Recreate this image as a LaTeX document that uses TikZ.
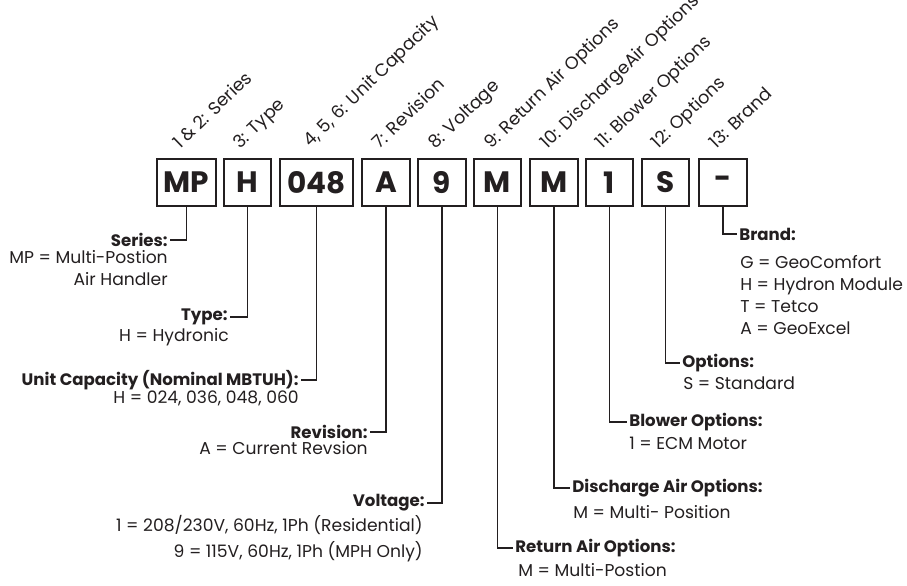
\documentclass[tikz,border=0pt]{standalone}
\usepackage{fontspec}
\setmainfont{Poppins}
\usepackage{tikz}
\usetikzlibrary{positioning}
\definecolor{ink}{HTML}{231F20}

\begin{document}
\begin{tikzpicture}[x=0.025cm, y=-0.025cm, ink, text=ink,
  digit/.style={draw=ink, line width=1.6pt, minimum height=1.16cm, minimum width=1.19cm, inner sep=0pt, font=\fontsize{21}{21}\selectfont\bfseries},
  slant/.style={rotate=44, anchor=base west, inner sep=0pt, font=\fontsize{12.6}{14}\selectfont},
  head/.style={inner sep=1.5pt, font=\fontsize{11.8}{13}\selectfont\bfseries},
  note/.style={inner sep=0pt, font=\fontsize{12.2}{15.6}\selectfont},
  lead/.style={line width=1.4pt}]
\useasboundingbox (0,0) rectangle (907,585);
\clip (0,0) rectangle (907,585);

\node[digit, minimum width=1.46cm] (mp) at (186.5,182.5) {MP};
\node[digit] (ty)   at (247.5,182.5) {H};
\node[digit, minimum width=1.81cm] (cap) at (316.5,182.5) {048};
\node[digit] (rev)  at (386,182.5)   {A};
\node[digit] (volt) at (442,182.5)   {9};
\node[digit] (ret)  at (497.5,182.5) {M};
\node[digit] (dis)  at (554,182.5)   {M};
\node[digit] (blw)  at (609.5,182.5) {1};
\node[digit] (opt)  at (665.5,182.5) {S};
\node[digit] (brd)  at (723,182.5)   {-};

\node[slant] (mp-l)   at (180,150) {1 \& 2: Series};
\node[slant] (ty-l)   at (240,150) {3: Type};
\node[slant] (cap-l)  at (310,148) {4, 5, 6: Unit Capacity};
\node[slant] (rev-l)  at (379,150) {7: Revision};
\node[slant] (volt-l) at (435,150) {8: Voltage};
\node[slant] (ret-l)  at (491,150) {9: Return Air Options};
\node[slant] (dis-l)  at (547,150) {10: DischargeAir Options};
\node[slant] (blw-l)  at (602,150) {11: Blower Options};
\node[slant] (opt-l)  at (658,150) {12: Options};
\node[slant] (brd-l)  at (716,150) {13: Brand};

\node[head, anchor=east] (mp-h)   at (170,240) {Series:};
\node[head, anchor=east] (ty-h)   at (230,317) {Type:};
\node[head, anchor=east] (cap-h)  at (301,380) {Unit Capacity (Nominal MBTUH):};
\node[head, anchor=east] (rev-h)  at (370,432) {Revision:};
\node[head, anchor=east] (volt-h) at (427,503) {Voltage:};
\node[head, anchor=west] (ret-h)  at (513,548) {Return Air Options:};
\node[head, anchor=west] (dis-h)  at (570,488) {Discharge Air Options:};
\node[head, anchor=west] (blw-h)  at (627,422) {Blower Options:};
\node[head, anchor=west] (opt-h)  at (680,363) {Options:};
\node[head, anchor=west] (brd-h)  at (737,234) {Brand:};

\node[note, anchor=north east, align=right] (mp-d)   at (168,250) {MP = Multi-Postion\\Air Handler};
\node[note, anchor=north east, align=right] (ty-d)   at (229,328) {H = Hydronic};
\node[note, anchor=north east, align=right] (cap-d)  at (299,391) {H = 024, 036, 048, 060};
\node[note, anchor=north east, align=right] (rev-d)  at (368,441) {A = Current Revsion};
\node[note, anchor=north east, align=right] (volt-d) at (423,515) {1 = 208/230V, 60Hz, 1Ph (Residential)\\[3pt]9 = 115V, 60Hz, 1Ph (MPH Only)};
\node[note, anchor=north west, align=left]  (ret-d)  at (518,563) {M = Multi-Postion};
\node[note, anchor=north west, align=left]  (dis-d)  at (573,505) {M = Multi- Position};
\node[note, anchor=north west, align=left]  (blw-d)  at (629,437) {1 = ECM Motor};
\node[note, anchor=north west, align=left]  (opt-d)  at (683,377) {S = Standard};
\node[note, anchor=north west, align=left]  (brd-d)  at (740,255) {G = GeoComfort\\H = Hydron Module\\T = Tetco\\A = GeoExcel};

\draw[lead] (mp)   |- (mp-h);
\draw[lead] (ty)   |- (ty-h);
\draw[lead] (cap)  |- (cap-h);
\draw[lead] (rev)  |- (rev-h);
\draw[lead] (volt) |- (volt-h);
\draw[lead] (ret)  |- (ret-h);
\draw[lead] (dis)  |- (dis-h);
\draw[lead] (blw)  |- (blw-h);
\draw[lead] (opt)  |- (opt-h);
\draw[lead] (brd)  |- (brd-h);
\end{tikzpicture}
\end{document}
